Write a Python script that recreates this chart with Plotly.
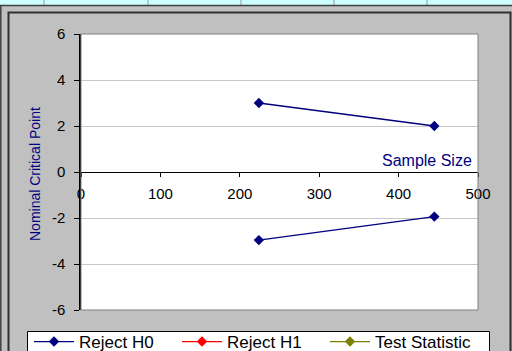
import plotly.graph_objects as go

# ---- data ----
sample_sizes = [224, 445]
reject_h0_upper = [3.0, 2.0]
reject_h0_lower = [-2.96, -1.94]
reject_h1 = []          # no visible points
test_statistic = []     # no visible points
series_names = ["Reject H0", "Reject H1", "Test Statistic"]
x_ticks = [0, 100, 200, 300, 400, 500]
y_ticks = [-6, -4, -2, 0, 2, 4, 6]

W, H = 512, 351
L, R, T, B = 81, 478, 34, 310  # plot area in pixels


def px(x):
    return (x - L) / (R - L)


def py(y):
    return (B - y) / (B - T)


NAVY = "#000080"
FONT = "Liberation Sans, Arial, sans-serif"

fig = go.Figure()

x_h0 = sample_sizes + [None] + sample_sizes
y_h0 = reject_h0_upper + [None] + reject_h0_lower
fig.add_trace(go.Scatter(
    x=x_h0, y=y_h0, mode="lines+markers", name=series_names[0],
    line=dict(color=NAVY, width=1.3), connectgaps=False,
    marker=dict(symbol="diamond", size=8, color=NAVY)))
fig.add_trace(go.Scatter(
    x=reject_h1 or [None], y=reject_h1 or [None], mode="lines+markers",
    name=series_names[1], line=dict(color="#FF0000", width=1.3),
    marker=dict(symbol="diamond", size=8, color="#FF0000")))
fig.add_trace(go.Scatter(
    x=test_statistic or [None], y=test_statistic or [None],
    mode="lines+markers", name=series_names[2],
    line=dict(color="#808000", width=1.3),
    marker=dict(symbol="diamond", size=8, color="#808000")))

shapes = []
# spreadsheet strip at top
shapes.append(dict(type="rect", xref="paper", yref="paper",
                   x0=px(0), x1=px(W), y0=py(0), y1=py(5.5),
                   fillcolor="#CCFFFF", line=dict(width=0), layer="below"))
for gx in [44, 148, 241, 334, 427]:
    shapes.append(dict(type="line", xref="paper", yref="paper",
                       x0=px(gx), x1=px(gx), y0=py(0), y1=py(5.5),
                       line=dict(color="#9a9a9a", width=1)))
shapes.append(dict(type="line", xref="paper", yref="paper",
                   x0=px(0), x1=px(W), y0=py(5.5), y1=py(5.5),
                   line=dict(color="#404040", width=1.5)))
# left window edge
shapes.append(dict(type="line", xref="paper", yref="paper",
                   x0=px(0.8), x1=px(0.8), y0=py(5.5), y1=py(H),
                   line=dict(color="#404040", width=1.5)))
# chart area border
shapes.append(dict(type="rect", xref="paper", yref="paper",
                   x0=px(8.5), x1=px(510.5), y0=py(12.5), y1=py(H + 5),
                   line=dict(color="#303030", width=2)))
# plot area border (gray)
shapes.append(dict(type="rect", xref="paper", yref="paper",
                   x0=0, x1=1, y0=0, y1=1,
                   line=dict(color="#808080", width=1)))
# legend box (drawn as a shape so the entries can sit close to its top edge)
shapes.append(dict(type="rect", xref="paper", yref="paper",
                   x0=px(27.5), x1=px(489.5), y0=py(331.5), y1=py(H + 10),
                   fillcolor="#FFFFFF", line=dict(color="#000000", width=1),
                   layer="above"))

fig.update_layout(
    width=W, height=H,
    margin=dict(l=L, r=W - R, t=T, b=H - B, autoexpand=False),
    paper_bgcolor="#C0C0C0", plot_bgcolor="#FFFFFF",
    font=dict(family=FONT, color="#000000", size=15),
    shapes=shapes,
    showlegend=True,
    legend=dict(orientation="h", x=px(29), y=py(324),
                xanchor="left", yanchor="top",
                bgcolor="rgba(0,0,0,0)", borderwidth=0,
                font=dict(family=FONT, size=17, color="#000000"),
                entrywidth=93, entrywidthmode="pixels",
                itemwidth=40),
    annotations=[
        dict(text="Sample Size", xref="paper", yref="paper",
             x=px(474), y=py(160), xanchor="right", yanchor="middle",
             showarrow=False, font=dict(family=FONT, size=16, color=NAVY)),
        dict(text="Nominal Critical Point", xref="paper", yref="paper",
             x=px(35), y=py(174), textangle=-90, xanchor="center",
             yanchor="middle", showarrow=False,
             font=dict(family=FONT, size=14, color=NAVY)),
    ],
)

fig.update_xaxes(
    range=[0, 500], tickvals=x_ticks, ticktext=[str(v) for v in x_ticks],
    anchor="free", position=0.5, showline=True, linecolor="#000000",
    linewidth=1, ticks="outside", ticklen=4, tickcolor="#000000",
    showgrid=False, zeroline=False, fixedrange=True,
    tickfont=dict(family=FONT, size=15, color="#000000"),
    ticklabelstandoff=4)
fig.update_yaxes(
    range=[-6, 6], tickvals=y_ticks, ticktext=[str(v) for v in y_ticks],
    showline=True, linecolor="#000000", linewidth=1.5,
    ticks="outside", ticklen=5, tickcolor="#000000",
    showgrid=True, gridcolor="#C8C8C8", gridwidth=1, zeroline=False,
    tickfont=dict(family=FONT, size=15, color="#000000"),
    ticklabelstandoff=6)

fig.write_html("out.html")
